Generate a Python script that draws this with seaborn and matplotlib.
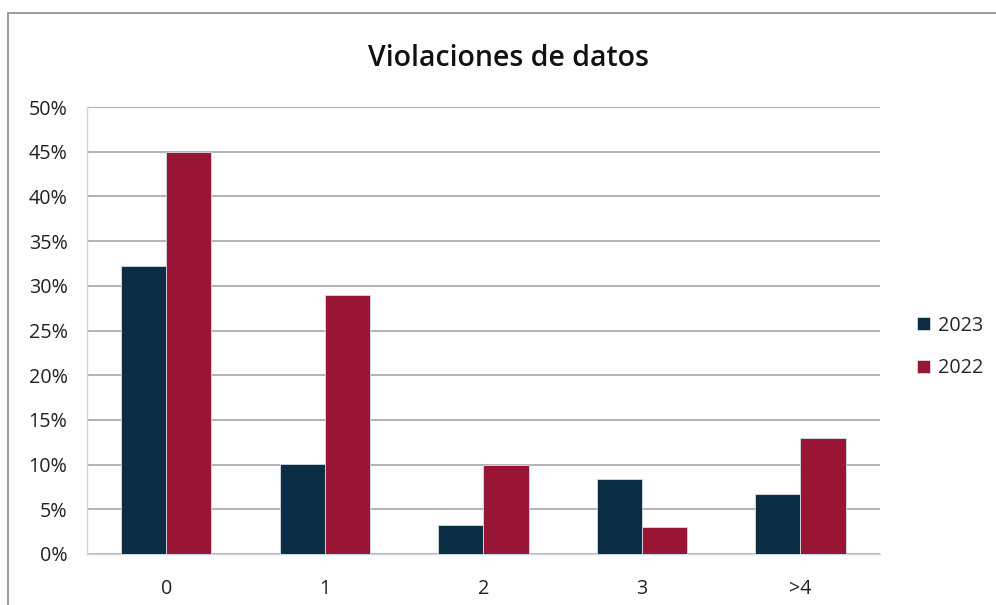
"""
Bar chart: Violaciones de datos (2023 vs 2022)
"""

import matplotlib.pyplot as plt
import matplotlib.ticker as mticker
import seaborn as sns
import pandas as pd

# Data
categories = ['0', '1', '2', '3', '>4']
values_2023 = [32.2, 10.1, 3.3, 8.4, 6.7]
values_2022 = [45.0, 29.0, 10.0, 3.0, 13.0]
years = ['2023', '2022']

colors = {'2023': '#0b2e45', '2022': '#981535'}

df = pd.DataFrame({
    'cat': categories * 2,
    'year': ['2023'] * len(categories) + ['2022'] * len(categories),
    'value': values_2023 + values_2022,
})

sns.set_style("white")
plt.rcParams['font.family'] = ['Open Sans', 'DejaVu Sans']

fig = plt.figure(figsize=(9.96, 6.05), dpi=100)
ax = fig.add_axes([0.0873, 0.0843, 0.796, 0.7387])

sns.barplot(data=df, x='cat', y='value', hue='year', hue_order=years,
            order=categories, palette=colors, saturation=1, width=0.57, gap=0,
            edgecolor='#d8dde6', linewidth=0.6, ax=ax, zorder=3)

ax.set_ylim(0, 50)
ax.set_xlim(-0.5, len(categories) - 0.5)
ax.yaxis.set_major_locator(mticker.MultipleLocator(5))
ax.yaxis.set_major_formatter(mticker.FuncFormatter(lambda v, p: f'{v:.0f}%'))
ax.grid(axis='y', color='#a6a6a6', linewidth=1.2, zorder=0)
ax.set_axisbelow(True)

for side in ['top', 'right']:
    ax.spines[side].set_visible(False)
ax.spines['left'].set_color('#c9d6e8')
ax.spines['bottom'].set_color('#c9d6e8')
ax.spines['left'].set_linewidth(1)
ax.spines['bottom'].set_linewidth(1)

ax.tick_params(axis='y', length=5, color='#a6a6a6', labelsize=14.2,
               labelcolor='#222222', pad=9)
ax.tick_params(axis='x', which='major', length=0, labelsize=14.2,
               labelcolor='#222222', pad=18)
ax.set_xticks([i + 0.5 for i in range(len(categories) - 1)], minor=True)
ax.tick_params(axis='x', which='minor', length=6, color='#c9d6e8')

ax.set_xlabel('')
ax.set_ylabel('')

ax.legend(loc='center left', bbox_to_anchor=(1.025, 0.463), frameon=False,
          fontsize=14.2, handlelength=0.65, handleheight=0.65,
          handletextpad=0.4, labelspacing=1.15)

fig.text(0.511, 0.903, 'Violaciones de datos', ha='center', va='center',
         fontsize=20.5, weight='semibold', color='#111111')

# outer chart frame
frame = plt.Rectangle((8 / 996, -0.05), 1.1, 1 - 13 / 605 + 0.05,
                      transform=fig.transFigure, fill=False,
                      edgecolor='#8c8c8c', linewidth=1.2)
fig.patches.append(frame)

plt.savefig('out.png', dpi=100)
plt.close()
